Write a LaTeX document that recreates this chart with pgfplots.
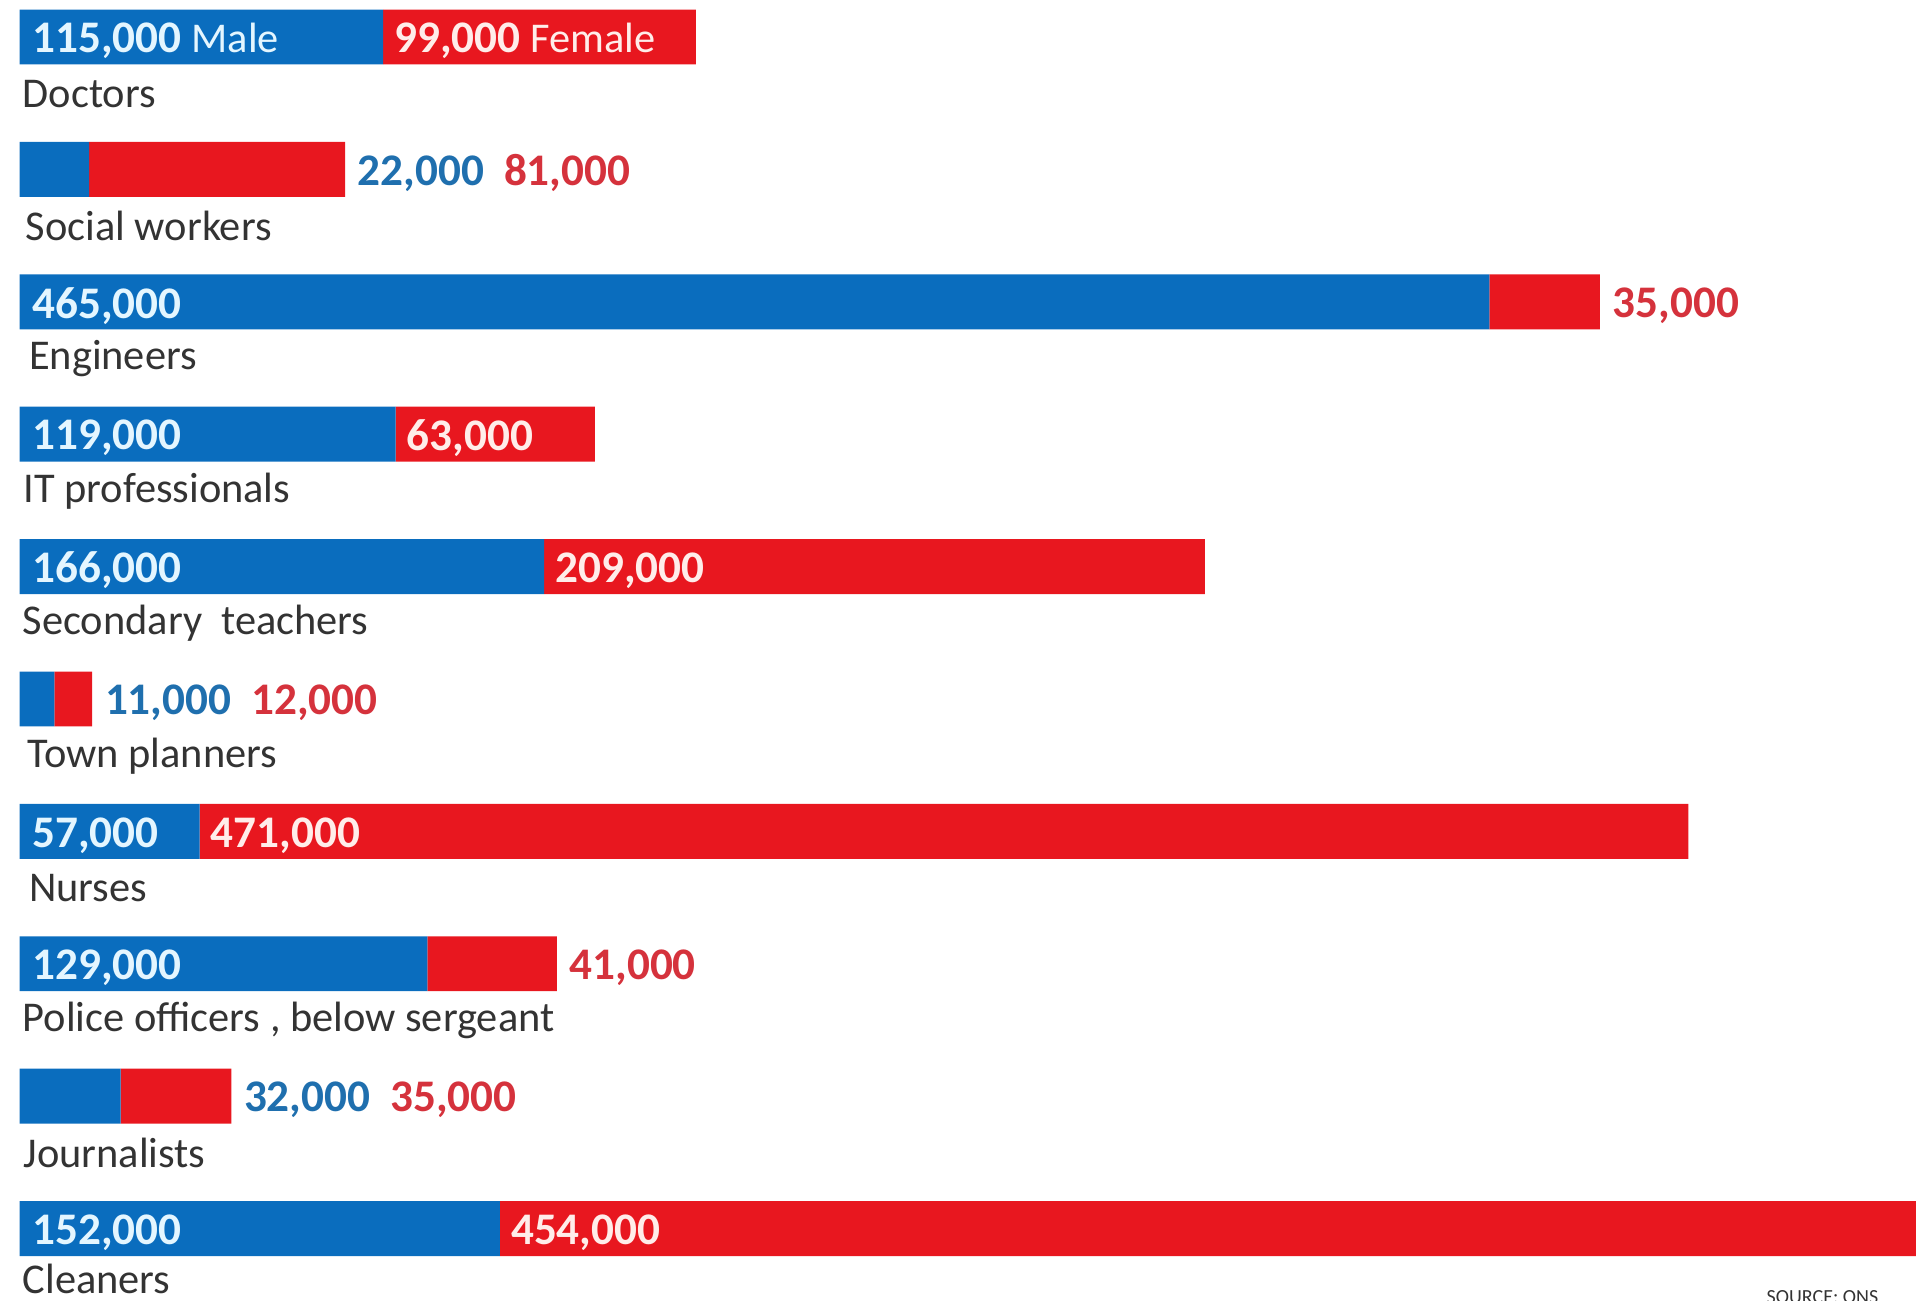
\documentclass[border=0pt]{standalone}
\usepackage{pgfplots}
\pgfplotsset{compat=1.18}
\usepackage{fontspec}
\setmainfont{Carlito}

\definecolor{mblue}{HTML}{0A6DBE}
\definecolor{mred}{HTML}{E8171F}
\definecolor{tblue}{HTML}{1F6FAE}
\definecolor{tred}{HTML}{D5323C}
\definecolor{wblue}{HTML}{E4F6FF}
\definecolor{wred}{HTML}{FFEDEA}
\definecolor{catgray}{HTML}{333333}

\tikzset{
  val/.style={anchor=west, inner sep=0pt, yshift=-1pt, font=\bfseries\fontsize{11.3}{12}\selectfont},
  inb/.style={val, text=wblue, xshift=3pt},
  inr/.style={val, text=wred, xshift=2.6pt},
  outb/.style={val, text=tblue, xshift=3pt},
  outr/.style={val, text=tred},
  cat/.style={anchor=west, inner sep=0pt, text=catgray, font=\fontsize{10.6}{12}\selectfont},
}
\newcommand{\pair}[2]{{\color{tblue}#1}\hspace{5pt}{\color{tred}#2}}
\newcommand{\sex}[1]{{\mdseries\fontsize{10.6}{12}\selectfont#1}}

\begin{document}
\begin{tikzpicture}
\begin{axis}[
    xbar stacked,
    y dir=reverse,
    scale only axis,
    width=479pt, height=325.25pt,
    xmin=-6170, xmax=600000,
    ymin=-0.2795, ymax=9.547,
    bar width=0.415,
    hide axis,
    after end axis/.code={
      % values
      \node[inb] at (axis cs:0,0) {115,000 \sex{Male}};
      \node[inr] at (axis cs:115000,0) {99,000 \sex{Female}};
      \node[outb] at (axis cs:103000,1) {\pair{22,000}{81,000}};
      \node[inb] at (axis cs:0,2) {465,000};
      \node[outr, xshift=3pt] at (axis cs:500000,2) {35,000};
      \node[inb] at (axis cs:0,3) {119,000};
      \node[inr] at (axis cs:119000,3) {63,000};
      \node[inb] at (axis cs:0,4) {166,000};
      \node[inr] at (axis cs:166000,4) {209,000};
      \node[outb] at (axis cs:23000,5) {\pair{11,000}{12,000}};
      \node[inb] at (axis cs:0,6) {57,000};
      \node[inr] at (axis cs:57000,6) {471,000};
      \node[inb] at (axis cs:0,7) {129,000};
      \node[outr, xshift=3pt] at (axis cs:170000,7) {41,000};
      \node[outb] at (axis cs:67000,8) {\pair{32,000}{35,000}};
      \node[inb] at (axis cs:0,9) {152,000};
      \node[inr] at (axis cs:152000,9) {454,000};
      % categories
      \node[cat, xshift=0.6pt] at (axis cs:0,0.43) {Doctors};
      \node[cat, xshift=1.4pt] at (axis cs:0,1.43) {Social workers};
      \node[cat, xshift=2.2pt] at (axis cs:0,2.43) {Engineers};
      \node[cat, xshift=0.8pt] at (axis cs:0,3.43) {IT professionals};
      \node[cat, xshift=0.6pt] at (axis cs:0,4.43) {Secondary\ \ teachers};
      \node[cat, xshift=1.8pt] at (axis cs:0,5.43) {Town planners};
      \node[cat, xshift=2.2pt] at (axis cs:0,6.43) {Nurses};
      \node[cat, xshift=0.6pt] at (axis cs:0,7.43) {Police officers , below sergeant};
      \node[cat, xshift=0.8pt] at (axis cs:0,8.43) {Journalists};
      \node[cat, xshift=0.6pt] at (axis cs:0,9.38) {Cleaners};
      \node[anchor=west, inner sep=0pt, text=catgray,
        font=\fontsize{5}{6}\selectfont] at (axis cs:552500,9.52) {SOURCE: ONS};
    },
]
% male
\addplot[fill=mblue, draw=none] coordinates {
  (115000,0) (22000,1) (465000,2) (119000,3) (166000,4)
  (11000,5) (57000,6) (129000,7) (32000,8) (152000,9)};
% female
\addplot[fill=mred, draw=none] coordinates {
  (99000,0) (81000,1) (35000,2) (63000,3) (209000,4)
  (12000,5) (471000,6) (41000,7) (35000,8) (454000,9)};
\end{axis}
\pgfresetboundingbox
\path[use as bounding box] (0,0) rectangle (479pt,325.25pt);
\end{tikzpicture}
\end{document}
